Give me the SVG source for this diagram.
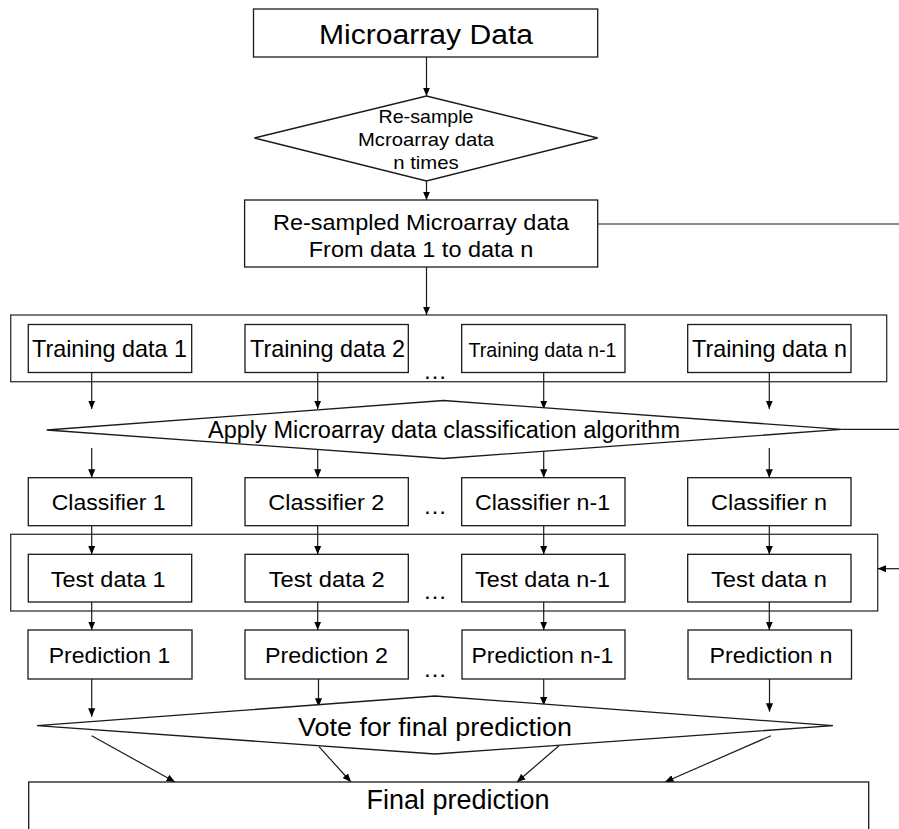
<svg xmlns="http://www.w3.org/2000/svg" width="899" height="829" viewBox="0 0 899 829">
<defs>
<style>
.box{fill:#fff;stroke:#1a1a1a;stroke-width:1.3}
.frame{fill:none;stroke:#333;stroke-width:1.3}
.ln{fill:none;stroke:#1a1a1a;stroke-width:1.2}
.ar{fill:none;stroke:#1a1a1a;stroke-width:1.2;marker-end:url(#ah)}
text{font-family:"Liberation Sans",Arial,Helvetica,sans-serif;fill:#000;text-anchor:middle}
.t22{font-size:22px}
.t23{font-size:23px}
.t24{font-size:24px}
.t20{font-size:20.5px}
.t18{font-size:18.5px}
.t26{font-size:26px}
.t27{font-size:27px}
.dots{font-size:24px}
</style>
<marker id="ah" viewBox="0 0 10 10" refX="10" refY="5" markerWidth="8.5" markerHeight="8.5" orient="auto" markerUnits="userSpaceOnUse">
<path d="M0,0.8 L10,5 L0,9.2 z" fill="#000"/>
</marker>
</defs>
<rect width="899" height="829" fill="#fff"/>

<g id="frames">
<rect class="frame" x="10.7" y="315" width="876" height="66.7"/>
<rect class="frame" x="10.7" y="534.3" width="867" height="76.7"/>
</g>

<g id="connectors">
<line class="ar" x1="426.5" y1="57" x2="426.5" y2="96"/>
<line class="ar" x1="426.5" y1="181" x2="426.5" y2="200"/>
<line class="ln" x1="597.7" y1="224" x2="899" y2="224"/>
<line class="ar" x1="426.5" y1="267" x2="426.5" y2="315"/>
<line class="ar" x1="91.7" y1="372.3" x2="91.7" y2="409"/>
<line class="ar" x1="317.7" y1="372.3" x2="317.7" y2="409"/>
<line class="ar" x1="543.7" y1="372.3" x2="543.7" y2="409"/>
<line class="ar" x1="769.3" y1="372.3" x2="769.3" y2="409"/>
<line class="ln" x1="841.7" y1="429.4" x2="899" y2="429.4"/>
<line class="ar" x1="91.7" y1="448" x2="91.7" y2="477.7"/>
<line class="ar" x1="317.7" y1="450" x2="317.7" y2="477.7"/>
<line class="ar" x1="543.7" y1="450" x2="543.7" y2="477.7"/>
<line class="ar" x1="769.3" y1="448" x2="769.3" y2="477.7"/>
<line class="ar" x1="91.7" y1="525.7" x2="91.7" y2="554.3"/>
<line class="ar" x1="317.7" y1="525.7" x2="317.7" y2="554.3"/>
<line class="ar" x1="543.7" y1="525.7" x2="543.7" y2="554.3"/>
<line class="ar" x1="769.3" y1="525.7" x2="769.3" y2="554.3"/>
<line class="ar" x1="899" y1="568.7" x2="877.7" y2="568.7"/>
<line class="ar" x1="91.7" y1="602" x2="91.7" y2="630"/>
<line class="ar" x1="317.7" y1="602" x2="317.7" y2="630"/>
<line class="ar" x1="543.7" y1="602" x2="543.7" y2="630"/>
<line class="ar" x1="769.3" y1="602" x2="769.3" y2="630"/>
<line class="ar" x1="91.7" y1="679" x2="91.7" y2="716.7"/>
<line class="ar" x1="318.5" y1="679" x2="318.5" y2="706.7"/>
<line class="ar" x1="543.7" y1="679" x2="543.7" y2="705.5"/>
<line class="ar" x1="769.5" y1="679" x2="769.5" y2="711.7"/>
<line class="ar" x1="91.7" y1="735.7" x2="175" y2="782"/>
<line class="ar" x1="319" y1="746.7" x2="351" y2="782"/>
<line class="ar" x1="559" y1="745.7" x2="517" y2="782"/>
<line class="ar" x1="771" y1="735.7" x2="665" y2="782"/>
</g>

<g id="microarray-data">
<rect class="box" x="253.5" y="9" width="344.2" height="48"/>
<text class="t27" x="426" y="44.3" textLength="214" lengthAdjust="spacingAndGlyphs">Microarray Data</text>
</g>

<g id="resample">
<polygon class="box" points="254.4,138 426.5,96 597.7,138 426.5,181"/>
<text class="t18" x="426" y="123" textLength="95" lengthAdjust="spacingAndGlyphs">Re-sample</text>
<text class="t18" x="426" y="146" textLength="136" lengthAdjust="spacingAndGlyphs">Mcroarray data</text>
<text class="t18" x="426" y="169" textLength="65.5" lengthAdjust="spacingAndGlyphs">n times</text>
</g>

<g id="resampled-data">
<rect class="box" x="244.6" y="200" width="353.1" height="67"/>
<text class="t22" x="421" y="230" textLength="296" lengthAdjust="spacingAndGlyphs">Re-sampled Microarray data</text>
<text class="t22" x="421" y="256.7" textLength="224.5" lengthAdjust="spacingAndGlyphs">From data 1 to data n</text>
</g>

<g id="training-1">
<rect class="box" x="28.3" y="324.5" width="163.4" height="48"/>
<text class="t24" x="109.5" y="357.3" textLength="155" lengthAdjust="spacingAndGlyphs">Training data 1</text>
</g>
<g id="training-2">
<rect class="box" x="245" y="324.5" width="163.3" height="48"/>
<text class="t24" x="327.5" y="357.3" textLength="155" lengthAdjust="spacingAndGlyphs">Training data 2</text>
</g>
<g id="training-n-1">
<rect class="box" x="461.7" y="324.5" width="163.3" height="48"/>
<text class="t20" x="542.5" y="356.7" textLength="148" lengthAdjust="spacingAndGlyphs">Training data n-1</text>
</g>
<g id="training-n">
<rect class="box" x="687.7" y="324.5" width="163.3" height="48"/>
<text class="t24" x="769.5" y="357.3" textLength="155" lengthAdjust="spacingAndGlyphs">Training data n</text>
</g>
<text class="dots" x="435" y="378.5">…</text>

<g id="apply-algorithm">
<polygon class="box" points="46.7,430 443.5,400.5 841.7,429.4 443.5,458.5"/>
<text class="t23" x="444" y="438.3" textLength="472" lengthAdjust="spacingAndGlyphs">Apply Microarray data classification algorithm</text>
</g>

<g id="classifier-1">
<rect class="box" x="28.3" y="477.7" width="163.4" height="48"/>
<text class="t22" x="108.7" y="510" textLength="114" lengthAdjust="spacingAndGlyphs">Classifier 1</text>
</g>
<g id="classifier-2">
<rect class="box" x="245" y="477.7" width="163.3" height="48"/>
<text class="t22" x="326.3" y="510" textLength="116" lengthAdjust="spacingAndGlyphs">Classifier 2</text>
</g>
<g id="classifier-n-1">
<rect class="box" x="461.7" y="477.7" width="163.3" height="48"/>
<text class="t22" x="542.5" y="510" textLength="135" lengthAdjust="spacingAndGlyphs">Classifier n-1</text>
</g>
<g id="classifier-n">
<rect class="box" x="687.7" y="477.7" width="163.3" height="48"/>
<text class="t22" x="769" y="510" textLength="116" lengthAdjust="spacingAndGlyphs">Classifier n</text>
</g>
<text class="dots" x="435" y="513.5">…</text>

<g id="test-1">
<rect class="box" x="28.3" y="554.3" width="163.4" height="47.7"/>
<text class="t22" x="108.2" y="586.7" textLength="115" lengthAdjust="spacingAndGlyphs">Test data 1</text>
</g>
<g id="test-2">
<rect class="box" x="245" y="554.3" width="163.3" height="47.7"/>
<text class="t22" x="326.7" y="586.7" textLength="116" lengthAdjust="spacingAndGlyphs">Test data 2</text>
</g>
<g id="test-n-1">
<rect class="box" x="461.7" y="554.3" width="163.3" height="47.7"/>
<text class="t22" x="542.5" y="586.7" textLength="135" lengthAdjust="spacingAndGlyphs">Test data n-1</text>
</g>
<g id="test-n">
<rect class="box" x="687.7" y="554.3" width="163.3" height="47.7"/>
<text class="t22" x="769" y="586.7" textLength="116" lengthAdjust="spacingAndGlyphs">Test data n</text>
</g>
<text class="dots" x="435" y="598.5">…</text>

<g id="prediction-1">
<rect class="box" x="28" y="630" width="164" height="49"/>
<text class="t22" x="109.5" y="663.3" textLength="121.6" lengthAdjust="spacingAndGlyphs">Prediction 1</text>
</g>
<g id="prediction-2">
<rect class="box" x="245" y="630" width="163.3" height="49"/>
<text class="t22" x="326.5" y="663.3" textLength="123" lengthAdjust="spacingAndGlyphs">Prediction 2</text>
</g>
<g id="prediction-n-1">
<rect class="box" x="462" y="630" width="163" height="49"/>
<text class="t22" x="542.4" y="663.3" textLength="142" lengthAdjust="spacingAndGlyphs">Prediction n-1</text>
</g>
<g id="prediction-n">
<rect class="box" x="688" y="630" width="163.5" height="49"/>
<text class="t22" x="771" y="663.3" textLength="123" lengthAdjust="spacingAndGlyphs">Prediction n</text>
</g>
<text class="dots" x="435" y="676.8">…</text>

<g id="vote">
<polygon class="box" points="37,725.7 435,696 833,725.7 435,754"/>
<text class="t26" x="435" y="735.5" textLength="274" lengthAdjust="spacingAndGlyphs">Vote for final prediction</text>
</g>

<g id="final-prediction">
<rect class="box" x="28.7" y="782" width="840" height="60"/>
<text class="t27" x="458" y="809" textLength="183" lengthAdjust="spacingAndGlyphs">Final prediction</text>
</g>
</svg>
